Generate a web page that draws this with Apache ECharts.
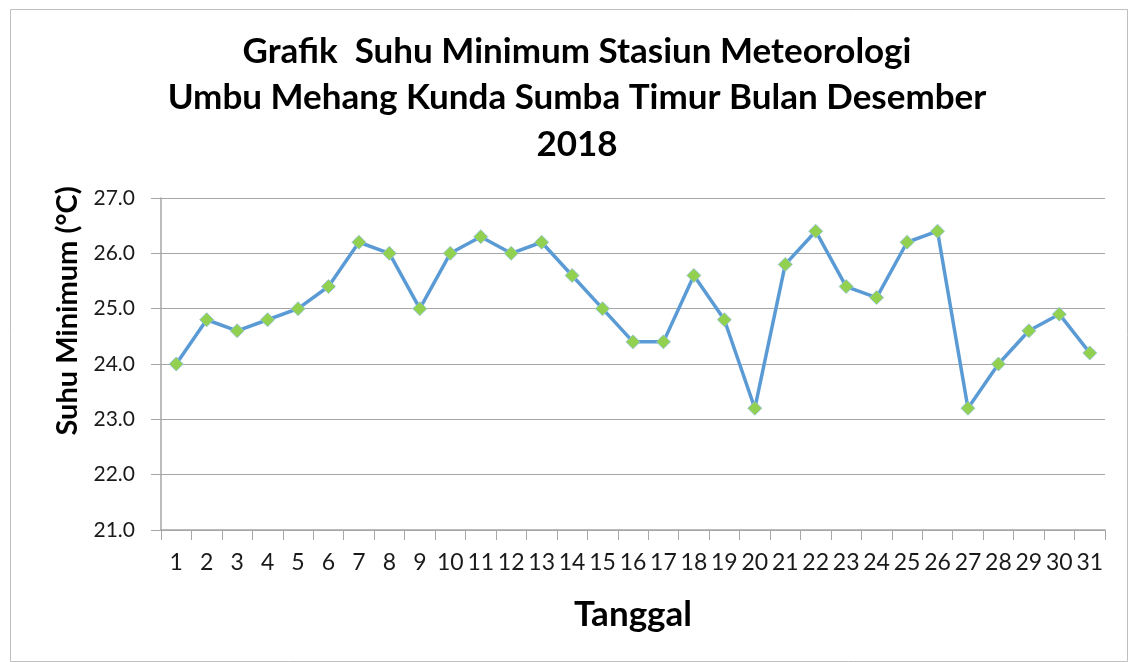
<!DOCTYPE html>
<html><head><meta charset="utf-8">
<script src="https://cdn.jsdelivr.net/npm/echarts@6/dist/echarts.min.js"></script>
<style>html,body{margin:0;padding:0;background:#fff}#c{width:1132px;height:662px}</style>
</head><body><div id="c"></div>
<script>
const titleLines = ['Grafik  Suhu Minimum Stasiun Meteorologi', 'Umbu Mehang Kunda Sumba Timur Bulan Desember', '2018'];
const categories = ['1','2','3','4','5','6','7','8','9','10','11','12','13','14','15','16','17','18','19','20','21','22','23','24','25','26','27','28','29','30','31'];
const suhuMinimum = [24.0,24.8,24.6,24.8,25.0,25.4,26.2,26.0,25.0,26.0,26.3,26.0,26.2,25.6,25.0,24.4,24.4,25.6,24.8,23.2,25.8,26.4,25.4,25.2,26.2,26.4,23.2,24.0,24.6,24.9,24.2];
const yAxisName = 'Suhu Minimum (°C)';
const xAxisName = 'Tanggal';
const FONT = 'Lato, "Open Sans", sans-serif';

const chart = echarts.init(document.getElementById('c'));
chart.setOption({
  animation: false,
  backgroundColor: '#fff',
  graphic: [{
    type: 'rect', left: 8, top: 7, shape: {width: 1117, height: 652},
    style: {fill: 'none', stroke: '#bfbfbf', lineWidth: 1}, silent: true
  }, {
    type: 'text', x: 68, y: 311, rotation: Math.PI / 2,
    style: {text: yAxisName, fontFamily: FONT, fontSize: 29, fontWeight: 'bold', fill: '#000',
            textAlign: 'center', textVerticalAlign: 'middle'}
  }],
  title: {
    text: titleLines.join('\n'),
    left: 572, top: 23, textAlign: 'center',
    textStyle: {fontFamily: FONT, fontSize: 35, fontWeight: 'bold', color: '#000', lineHeight: 46.5}
  },
  grid: {left: 161, right: 27, top: 198, bottom: 132, containLabel: false},
  xAxis: {
    type: 'category', data: categories, boundaryGap: true,
    name: xAxisName, nameLocation: 'middle', nameGap: 67,
    nameTextStyle: {fontFamily: FONT, fontSize: 35, fontWeight: 'bold', color: '#000'},
    axisLine: {lineStyle: {color: '#a6a6a6', width: 1.5}},
    axisTick: {show: true, length: 10, lineStyle: {color: '#a6a6a6'}, alignWithLabel: false},
    axisLabel: {fontFamily: FONT, fontSize: 23, color: '#1a1a1a', margin: 21, interval: 0}
  },
  yAxis: {
    type: 'value', min: 21, max: 27, interval: 1,
    axisLine: {show: true, lineStyle: {color: '#a6a6a6', width: 1.5}},
    axisTick: {show: true, length: 10, lineStyle: {color: '#a6a6a6'}},
    axisLabel: {fontFamily: FONT, fontSize: 21, color: '#1a1a1a', margin: 26, formatter: v => v.toFixed(1)},
    splitLine: {lineStyle: {color: '#a6a6a6', width: 1.2}}
  },
  series: [{
    type: 'line', data: suhuMinimum,
    lineStyle: {color: '#5b9bd5', width: 3.5},
    symbol: 'diamond', symbolSize: 14,
    itemStyle: {color: '#92d050', borderColor: '#8fbfe0', borderWidth: 0.8}
  }]
});
</script></body></html>
